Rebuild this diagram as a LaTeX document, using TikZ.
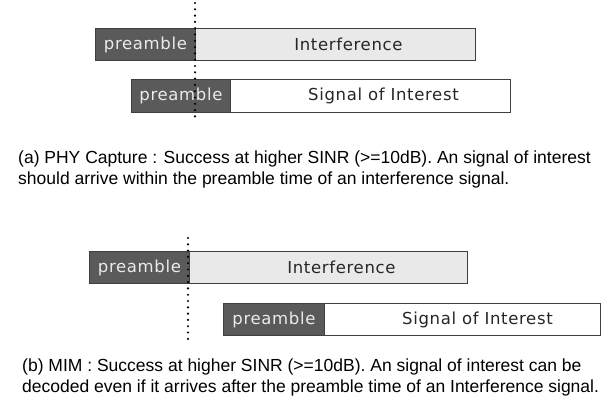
\documentclass[tikz,border=0pt]{standalone}
\usepackage{fontspec}
\setmainfont{Liberation Sans}
\newfontfamily\boxfont[LetterSpace=4]{DejaVu Sans}
\definecolor{predark}{HTML}{5A5A5A}
\definecolor{interf}{HTML}{E9E9E9}
\definecolor{edge}{HTML}{404040}
\begin{document}
\begin{tikzpicture}[x=1pt,y=-1pt,
  seg/.style={draw=edge,line width=0.9pt,rectangle,anchor=north west,inner sep=0pt,minimum height=32pt},
  pre/.style={seg,fill=predark},
  intf/.style={seg,fill=interf},
  soi/.style={seg,fill=white},
  pretext/.style={text=white!92!black,font=\boxfont\fontsize{16.5}{16.5}\selectfont},
  boxtext/.style={text=black!85,font=\boxfont\fontsize{16.5}{16.5}\selectfont},
  captxt/.style={anchor=base west,align=left,inner sep=0pt,font=\fontsize{17.5}{21}\selectfont},
  dotline/.style={line width=2.4pt,line cap=round,dash pattern=on 0pt off 6.3pt,black}]
\useasboundingbox (0,0) rectangle (609,412);
% (a)
\node[pre,minimum width=100pt] (pa1) at (95,28) {};
\node[intf,minimum width=280pt] (ia) at (195,28) {};
\node[pre,minimum width=99pt,minimum height=33pt] (pa2) at (131,79) {};
\node[soi,minimum width=280pt,minimum height=33pt] (sa) at (230,79) {};
\node[pretext] at (pa1.center) {preamble};
\node[boxtext] at ([xshift=13pt]ia.center) {Interference};
\node[pretext] at (pa2.center) {preamble};
\node[boxtext] at ([xshift=13pt]sa.center) {Signal of Interest};
\coordinate (da1) at (195,3);
\coordinate (da2) at (195,121);
\draw[dotline] (da1) -- (da2);
\node[captxt] (ca) at (18,184) {(a) PHY Capture : Success at higher SINR (>=10dB). An signal of interest\\should arrive within the preamble time of an interference signal.};
% (b)
\node[pre,minimum width=100pt] (pb1) at (89,251) {};
\node[intf,minimum width=278pt] (ib) at (189,251) {};
\node[pre,minimum width=101pt] (pb2) at (223,303) {};
\node[soi,minimum width=276pt] (sb) at (324,303) {};
\node[pretext] at (pb1.center) {preamble};
\node[boxtext] at ([xshift=13pt]ib.center) {Interference};
\node[pretext] at (pb2.center) {preamble};
\node[boxtext] at ([xshift=15pt]sb.center) {Signal of Interest};
\coordinate (db1) at (188,238);
\coordinate (db2) at (188,343);
\draw[dotline] (db1) -- (db2);
\node[captxt] (cb) at (22,392) {(b) MIM : Success at higher SINR (>=10dB). An signal of interest can be\\decoded even if it arrives after the preamble time of an Interference signal.};
\end{tikzpicture}
\end{document}
